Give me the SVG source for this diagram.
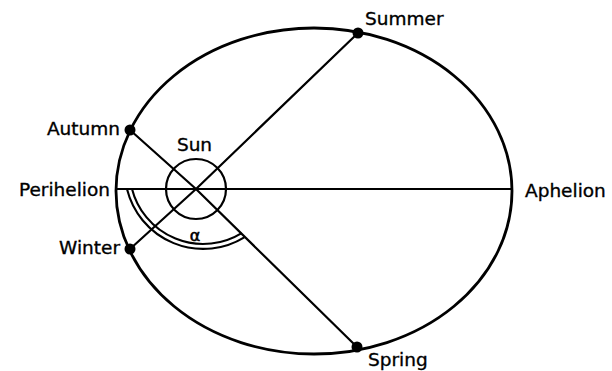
<svg xmlns="http://www.w3.org/2000/svg" width="612" height="371" viewBox="0 0 612 371">
<style>
.ln{fill:none;stroke:#000;stroke-width:2.2}
.orb{fill:none;stroke:#000;stroke-width:2.8}
.dot{fill:#000}
text{font-family:"DejaVu Sans","Liberation Sans",sans-serif;font-size:18.5px;fill:#000;stroke:#000;stroke-width:0.35}
.a{font-size:16px;stroke-width:0.6}
</style>
<rect width="612" height="371" fill="#fff"/>
<g id="orbit"><ellipse class="orb" cx="314" cy="191" rx="198" ry="163"/></g>
<g id="angle">
<path d="M129.5,189 A76,76 0 0 0 243,235.2" fill="none" stroke="#000" stroke-width="7"/>
<path d="M129.5,189 A76,76 0 0 0 243,235.2" fill="none" stroke="#fff" stroke-width="2.8"/>
<text class="a" x="195" y="241" text-anchor="middle">α</text>
</g>
<g id="connectors">
<line class="ln" x1="116" y1="189" x2="512" y2="189"/>
<polyline class="ln" points="130,130 196,189 357,347"/>
<polyline class="ln" points="130,249 196,189 358,33"/>
</g>
<g id="sun"><circle class="ln" cx="196" cy="189" r="30"/><text x="194.5" y="151" text-anchor="middle">Sun</text></g>
<g id="summer"><circle class="dot" cx="358" cy="33" r="5.5"/><text x="365" y="25">Summer</text></g>
<g id="spring"><circle class="dot" cx="357" cy="347" r="5.5"/><text x="368" y="366">Spring</text></g>
<g id="autumn"><circle class="dot" cx="130" cy="130" r="5.5"/><text x="120" y="135" text-anchor="end">Autumn</text></g>
<g id="winter"><circle class="dot" cx="130" cy="249" r="5.5"/><text x="120" y="254" text-anchor="end">Winter</text></g>
<g id="perihelion"><text x="110" y="196" text-anchor="end">Perihelion</text></g>
<g id="aphelion"><text x="525" y="196.5">Aphelion</text></g>
</svg>
